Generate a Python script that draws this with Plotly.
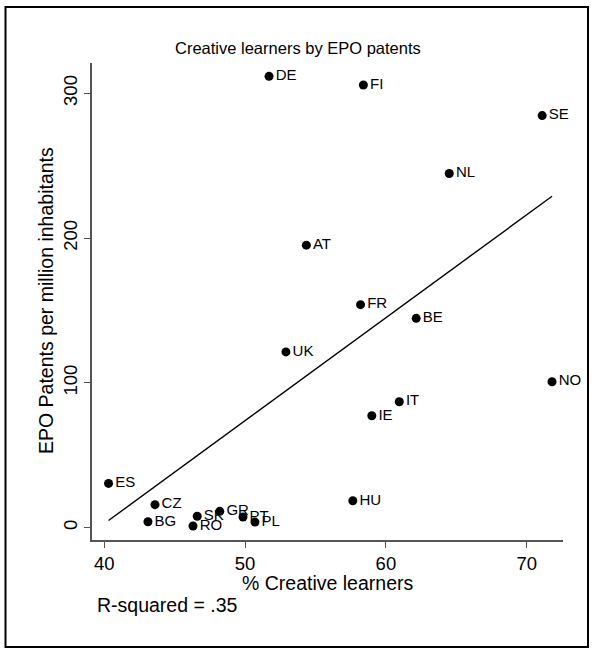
import numpy as np
import plotly.graph_objects as go

# Country codes, share of creative learners (%) and EPO patents per million inhabitants
countries = ["DE", "FI", "SE", "NL", "AT", "FR", "BE", "UK", "NO", "IT",
             "IE", "HU", "ES", "CZ", "BG", "SK", "RO", "GR", "PT", "PL"]
creative = [51.7, 58.4, 71.1, 64.5, 54.35, 58.2, 62.15, 52.9, 71.8, 60.95,
            59.0, 57.65, 40.3, 43.6, 43.1, 46.6, 46.3, 48.2, 49.85, 50.7]
patents = [311.7, 305.7, 284.6, 244.6, 195.1, 154.0, 144.6, 121.4, 100.8, 87.0,
           77.3, 18.6, 30.6, 15.9, 4.1, 7.9, 1.2, 11.3, 7.4, 3.9]

x_ticks = [40, 50, 60, 70]
y_ticks = [0, 100, 200, 300]

title_text = "Creative learners by EPO patents"
x_title = "% Creative learners"
y_title = "EPO Patents per million inhabitants"
r2_text = "R-squared = .35"

# Linear fit over the observed range
x_arr = np.array(creative)
y_arr = np.array(patents)
slope, intercept = np.polyfit(x_arr, y_arr, 1)
fit_x = [x_arr.min(), x_arr.max()]
fit_y = [slope * v + intercept for v in fit_x]

W, H = 592, 653
L, R, T, B = 92, 29, 63, 113
PW, PH = W - L - R, H - T - B


def px(p):
    return (p - L) / PW


def py(p):
    return (H - B - p) / PH


FONT = "Liberation Sans, Arial, Helvetica, sans-serif"
AXIS_COL = "#555555"

fig = go.Figure()

fig.add_trace(go.Scatter(
    x=fit_x, y=fit_y, mode="lines",
    line=dict(color="black", width=1.4),
    hoverinfo="skip", showlegend=False,
))

fig.add_trace(go.Scatter(
    x=creative, y=patents, mode="markers+text",
    text=countries, textposition="middle right",
    textfont=dict(family=FONT, size=15, color="black"),
    marker=dict(color="black", size=9),
    cliponaxis=False,
    showlegend=False,
))

fig.update_layout(
    width=W, height=H,
    margin=dict(l=L, r=R, t=T, b=B),
    paper_bgcolor="white", plot_bgcolor="white",
    font=dict(family=FONT, color="black"),
    xaxis=dict(
        range=[39.126, 72.578], tickmode="array", tickvals=x_ticks,
        ticks="outside", ticklen=6, tickcolor=AXIS_COL, tickwidth=1.2,
        showline=True, linecolor=AXIS_COL, linewidth=1.5,
        showgrid=False, zeroline=False,
        tickfont=dict(family=FONT, size=18.5, color="black"),
    ),
    yaxis=dict(
        range=[-8.49, 320.9], tickmode="array", tickvals=y_ticks,
        ticks="outside", ticklen=6, tickcolor=AXIS_COL, tickwidth=1.2,
        showline=True, linecolor=AXIS_COL, linewidth=1.5,
        showgrid=False, zeroline=False, tickangle=-90,
        tickfont=dict(family=FONT, size=18.5, color="black"),
    ),
)

annotations = [
    dict(text=title_text, x=px(298), y=py(48), font=dict(size=16.5)),
    dict(text=x_title, x=px(327), y=py(583), font=dict(size=19.5)),
    dict(text=y_title, x=px(46), y=py(301), font=dict(size=19.5), textangle=-90),
    dict(text=r2_text, x=px(95), y=py(605), xanchor="left", font=dict(size=19.5)),
]
for a in annotations:
    a.setdefault("xanchor", "center")
    fig.add_annotation(xref="paper", yref="paper", yanchor="middle",
                       showarrow=False, **a)

# Outer frame around the whole graph
fig.add_shape(type="rect", xref="paper", yref="paper",
              x0=px(5.5), x1=px(588), y0=py(647), y1=py(7),
              line=dict(color="black", width=2), layer="above")

fig.write_html("out.html")
